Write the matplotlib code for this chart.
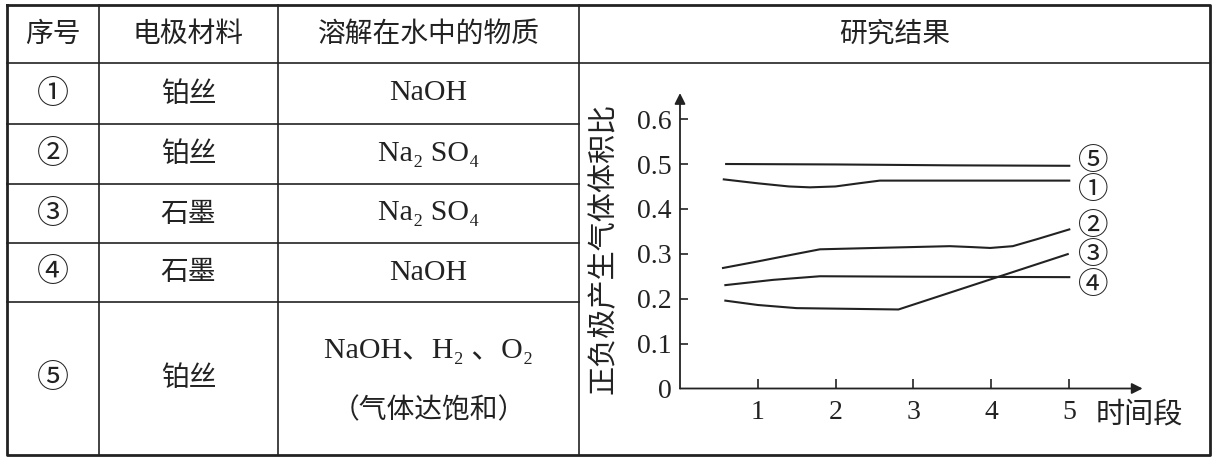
import matplotlib
matplotlib.use("Agg")
import matplotlib.pyplot as plt

# ---------------- data ----------------
headers = ["序号", "电极材料", "溶解在水中的物质", "研究结果"]
row_ids = ["①", "②", "③", "④", "⑤"]
electrodes = ["铂丝", "铂丝", "石墨", "石墨", "铂丝"]
solutes = ["NaOH", "Na₂ SO₄", "Na₂ SO₄", "NaOH", "NaOH、H₂ 、O₂"]
solute5_note = "（气体达饱和）"

x_ticks = [1, 2, 3, 4, 5]
y_ticks = [0, 0.1, 0.2, 0.3, 0.4, 0.5, 0.6]
y_tick_labels = ["0", "0.1", "0.2", "0.3", "0.4", "0.5", "0.6"]
x_label = "时间段"
y_label = "正负极产生气体体积比"

x5 = [0.58, 2.0, 3.5, 5.02]
y5 = [0.500, 0.499, 0.497, 0.496]
x1 = [0.55, 1.0, 1.4, 1.67, 2.0, 2.3, 2.57, 3.5, 5.02]
y1 = [0.466, 0.457, 0.450, 0.448, 0.450, 0.457, 0.463, 0.463, 0.463]
x2 = [0.54, 1.0, 1.5, 1.80, 2.5, 3.47, 3.75, 3.99, 4.28, 4.6, 5.02]
y2 = [0.268, 0.283, 0.300, 0.310, 0.313, 0.317, 0.315, 0.313, 0.317, 0.333, 0.355]
x3 = [0.57, 1.0, 1.50, 2.81, 5.0]
y3 = [0.196, 0.186, 0.179, 0.176, 0.300]
x4 = [0.57, 1.2, 1.80, 3.0, 5.02]
y4 = [0.230, 0.242, 0.250, 0.249, 0.248]
series = [(x1, y1, "①", 0.442), (x2, y2, "②", 0.360), (x3, y3, "③", 0.296),
          (x4, y4, "④", 0.230), (x5, y5, "⑤", 0.505)]

# ---------------- figure ----------------
W, H = 1229, 463
fig = plt.figure(figsize=(W / 100, H / 100), dpi=100)
fig.patch.set_facecolor("white")

CJK = ["Noto Sans CJK SC", "DejaVu Sans"]
SERIF = ["Liberation Serif", "DejaVu Serif", "Noto Sans CJK SC"]
INK = "#222222"

tab = fig.add_axes([0, 0, 1, 1])
tab.set_xlim(0, W)
tab.set_ylim(H, 0)
tab.axis("off")

col_x = [7, 99, 278, 579, 1210]
row_y = [5, 63, 124, 184, 243, 302, 455]

# outer border
tab.plot([col_x[0], col_x[-1], col_x[-1], col_x[0], col_x[0]],
         [row_y[0], row_y[0], row_y[-1], row_y[-1], row_y[0]], color=INK, lw=2.0)
# header divider
tab.plot([col_x[0], col_x[-1]], [row_y[1], row_y[1]], color=INK, lw=1.2)
# row dividers for left three columns
for yy in row_y[2:-1]:
    tab.plot([col_x[0], col_x[3]], [yy, yy], color=INK, lw=1.2)
# column dividers
for xx in col_x[1:-1]:
    tab.plot([xx, xx], [row_y[0], row_y[-1]], color=INK, lw=1.2)

centers_x = [(col_x[i] + col_x[i + 1]) / 2 for i in range(4)]
hy = (row_y[0] + row_y[1]) / 2
for i, h in enumerate(headers):
    tab.text(centers_x[i], hy, h, ha="center", va="center", fontsize=20,
             family=CJK, color=INK)

for r in range(5):
    cy = (row_y[r + 1] + row_y[r + 2]) / 2
    tab.text(centers_x[0], cy, row_ids[r], ha="center", va="center", fontsize=23,
             family=CJK, color=INK)
    tab.text(centers_x[1], cy, electrodes[r], ha="center", va="center", fontsize=20,
             family=CJK, color=INK)
    if r < 4:
        tab.text(centers_x[2], cy, solutes[r], ha="center", va="center", fontsize=21.5,
                 family=SERIF, color=INK)
    else:
        tab.text(centers_x[2], 351, solutes[r], ha="center", va="center", fontsize=21.5,
                 family=SERIF, color=INK)
        tab.text(centers_x[2], 410, solute5_note, ha="center", va="center", fontsize=20,
                 family=CJK, color=INK)

# ---------------- chart ----------------
ox, oy = 680, 388.5
px_per_x = 77.75
px_per_y = 449.0
xmax, ymax = 6.0, 0.65
ax = fig.add_axes([ox / W, (H - oy) / H, xmax * px_per_x / W, ymax * px_per_y / H])
ax.set_xlim(0, xmax)
ax.set_ylim(0, ymax)
ax.patch.set_alpha(0)
for s in ax.spines.values():
    s.set_visible(False)

for xs, ys, lab, ly in series:
    ax.plot(xs, ys, color=INK, lw=1.5, solid_capstyle="butt")
    ax.text(5.31, ly, lab, ha="center", va="center", fontsize=22, family=CJK, color=INK)

# axes with arrows
ax.annotate("", xy=(5.95, 0), xytext=(0, 0), annotation_clip=False,
            arrowprops=dict(arrowstyle="-|>", color=INK, lw=1.3, mutation_scale=16,
                            shrinkA=0, shrinkB=0))
ax.annotate("", xy=(0, 0.658), xytext=(0, 0), annotation_clip=False,
            arrowprops=dict(arrowstyle="-|>", color=INK, lw=1.3, mutation_scale=16,
                            shrinkA=0, shrinkB=0))

ax.set_xticks(x_ticks)
ax.set_xticklabels([str(v) for v in x_ticks])
ax.set_yticks(y_ticks)
ax.set_yticklabels(y_tick_labels)
ax.tick_params(axis="x", direction="in", length=7, width=1.2, pad=8, colors=INK,
               labelsize=20)
ax.tick_params(axis="y", direction="in", length=6, width=1.2, pad=6, colors=INK,
               labelsize=20)
for lbl in ax.get_xticklabels() + ax.get_yticklabels():
    lbl.set_family(SERIF)
# hide the tick at 0 on y (origin)
ax.yaxis.get_major_ticks()[0].tick1line.set_visible(False)

ax.text(5.34, -0.058, x_label, ha="left", va="center", fontsize=21, family=CJK,
        color=INK, clip_on=False)
fig.text(604 / W, 1 - 248 / H, y_label, rotation=90, ha="center", va="center",
         fontsize=21, family=CJK, color=INK)

fig.savefig("out.png", dpi=100, facecolor="white")
